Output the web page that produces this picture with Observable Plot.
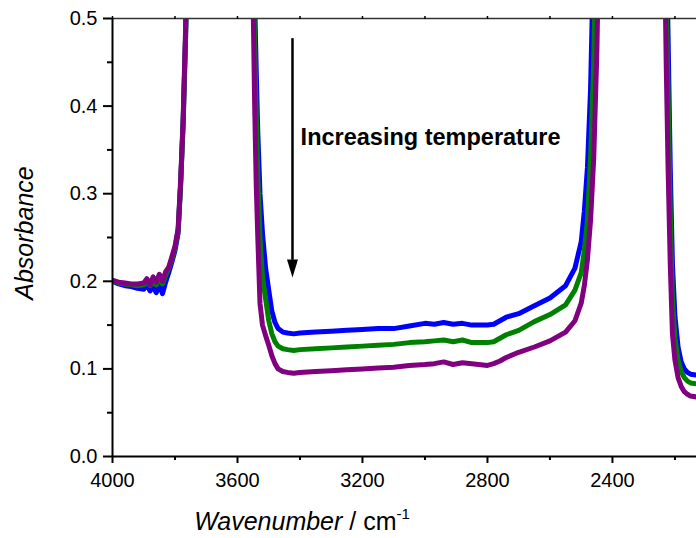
<!DOCTYPE html>
<html><head><meta charset="utf-8">
<script src="https://cdn.jsdelivr.net/npm/d3@7"></script>
<script src="https://cdn.jsdelivr.net/npm/@observablehq/plot@0.6"></script>
<style>body{margin:0;background:#fff;}</style>
</head><body><div id="chart"></div>
<script>
const wavenumber = [
  4000, 3980, 3960, 3940, 3920, 3900, 3890, 3880, 3870, 3860, 3850, 3840, 3830, 3820, 3810, 3800, 3790, 3782, 3774, 3766, 3760,
  3660,
  3560, 3550, 3545, 3540, 3535, 3528, 3520, 3510, 3500, 3490, 3480, 3470, 3455, 3440, 3420,
  3400, 3350, 3300, 3250, 3200, 3150, 3100, 3050, 3000, 2970, 2940, 2910, 2880, 2850, 2800,
  2780, 2760, 2740, 2700, 2650, 2600, 2550, 2520, 2500, 2490, 2480, 2470, 2460, 2450, 2440,
  2340,
  2240, 2232, 2228, 2222, 2215, 2208, 2200, 2190, 2180, 2170, 2160, 2150, 2131
];
const blueValues = [
  0.200, 0.197, 0.195, 0.194, 0.192, 0.191, 0.196, 0.189, 0.194, 0.187, 0.196, 0.186, 0.199, 0.210, 0.222, 0.235, 0.255, 0.31, 0.38, 0.48, 0.6,
  0.9,
  0.7, 0.6, 0.52, 0.44, 0.37, 0.30, 0.255, 0.215, 0.19, 0.166, 0.153, 0.146, 0.142, 0.141, 0.140,
  0.141, 0.142, 0.143, 0.144, 0.145, 0.146, 0.146, 0.149, 0.152, 0.151, 0.153, 0.151, 0.152, 0.150, 0.150,
  0.151, 0.155, 0.159, 0.163, 0.172, 0.181, 0.195, 0.215, 0.245, 0.28, 0.33, 0.42, 0.58, 0.75, 0.8,
  0.9,
  0.8, 0.7, 0.6, 0.48, 0.33, 0.22, 0.16, 0.125, 0.108, 0.100, 0.096, 0.094, 0.093
];
const greenValues = [
  0.201, 0.198, 0.197, 0.196, 0.195, 0.196, 0.199, 0.195, 0.200, 0.196, 0.203, 0.197, 0.207, 0.215, 0.225, 0.238, 0.258, 0.31, 0.38, 0.48, 0.6,
  0.9,
  0.7, 0.56, 0.47, 0.39, 0.32, 0.25, 0.205, 0.18, 0.155, 0.14, 0.131, 0.126, 0.123, 0.122, 0.121,
  0.122, 0.123, 0.124, 0.125, 0.126, 0.127, 0.128, 0.130, 0.131, 0.132, 0.133, 0.131, 0.133, 0.130, 0.130,
  0.131, 0.135, 0.139, 0.144, 0.154, 0.162, 0.173, 0.19, 0.21, 0.235, 0.27, 0.34, 0.45, 0.65, 0.8,
  0.9,
  0.8, 0.65, 0.52, 0.42, 0.28, 0.18, 0.135, 0.11, 0.097, 0.09, 0.086, 0.084, 0.083
];
const purpleValues = [
  0.201, 0.199, 0.198, 0.197, 0.197, 0.198, 0.203, 0.196, 0.205, 0.199, 0.208, 0.200, 0.211, 0.216, 0.228, 0.240, 0.260, 0.315, 0.385, 0.49, 0.6,
  0.9,
  0.7, 0.52, 0.40, 0.31, 0.25, 0.175, 0.15, 0.138, 0.127, 0.115, 0.106, 0.10, 0.097, 0.096, 0.095,
  0.096, 0.097, 0.098, 0.099, 0.100, 0.101, 0.102, 0.104, 0.105, 0.106, 0.108, 0.105, 0.107, 0.106, 0.104,
  0.106, 0.109, 0.113, 0.119, 0.125, 0.132, 0.142, 0.155, 0.175, 0.195, 0.225, 0.27, 0.34, 0.46, 0.65,
  0.9,
  0.8, 0.55, 0.45, 0.33, 0.22, 0.14, 0.11, 0.09, 0.08, 0.074, 0.071, 0.069, 0.068
];
const seriesNames = ["low", "mid", "high"];
const seriesColors = ["#0000ff", "#008000", "#800080"];
const seriesValues = [blueValues, greenValues, purpleValues];

const majorX = [4000, 3600, 3200, 2800, 2400];
const minorX = [3800, 3400, 3000, 2600, 2200];
const majorY = [0, 0.1, 0.2, 0.3, 0.4, 0.5];
const minorY = [0.05, 0.15, 0.25, 0.35, 0.45];

const annotation = [{x: 3398, y: 0.364, label: "Increasing temperature"}];
const arrowShaft = [{x: 3424, y1: 0.477, y2: 0.224}];
const arrowTip = [{x: 3424, y: 0.2043}];

const data = seriesNames.flatMap((s, i) =>
  wavenumber.map((w, j) => ({series: s, wavenumber: w, absorbance: seriesValues[i][j]})));

const arrowHead = {
  draw(ctx) { ctx.moveTo(-5.5, -18); ctx.lineTo(5.5, -18); ctx.lineTo(0, 0); ctx.closePath(); }
};

const plot = Plot.plot({
  width: 696, height: 538,
  marginTop: 18, marginBottom: 82, marginLeft: 112, marginRight: 0,
  style: {fontFamily: "'Liberation Sans', Arial, sans-serif", fontSize: "20px", background: "#fff", color: "#000", overflow: "visible"},
  x: {domain: [4000, 2131], label: null},
  y: {domain: [0, 0.5], label: null},
  color: {domain: seriesNames, range: seriesColors},
  marks: [
    Plot.line(data, {x: "wavenumber", y: "absorbance", z: "series", stroke: "series", strokeWidth: 5, clip: true, strokeLinejoin: "round"}),
    Plot.ruleY([0], {strokeWidth: 2}),
    Plot.ruleY([0.5], {strokeWidth: 1.5, stroke: "#333"}),
    Plot.ruleX([4000], {strokeWidth: 2}),
    Plot.axisX(majorX, {anchor: "bottom", tickSize: 7, tickPadding: 9, strokeWidth: 2, tickFormat: d => String(d), fontSize: 20, label: null}),
    Plot.axisX(minorX, {anchor: "bottom", tickSize: 4, strokeWidth: 2, text: null, label: null}),
    Plot.axisX(majorX.concat(minorX), {anchor: "top", tickSize: 3, strokeWidth: 1.5, text: null, label: null}),
    Plot.axisY(majorY, {anchor: "left", tickSize: 9, tickPadding: 6, strokeWidth: 2, tickFormat: d3.format(".1f"), fontSize: 20, label: null}),
    Plot.axisY(minorY, {anchor: "left", tickSize: 5, strokeWidth: 2, text: null, label: null}),
    Plot.ruleX(arrowShaft, {x: "x", y1: "y1", y2: "y2", strokeWidth: 2.5}),
    Plot.dot(arrowTip, {x: "x", y: "y", symbol: arrowHead, fill: "#000", stroke: null, r: 5}),
    Plot.text(annotation, {x: "x", y: "y", text: "label", textAnchor: "start", fontWeight: "bold", fontSize: 23.5, fill: "#000"})
  ]
});

const svg = d3.select(plot);
svg.append("text")
  .attr("transform", "translate(24,233) rotate(-90)")
  .attr("text-anchor", "middle")
  .attr("dominant-baseline", "central")
  .attr("font-size", 25)
  .attr("font-style", "italic")
  .attr("fill", "#000")
  .text("Absorbance");
const xt = svg.append("text")
  .attr("x", 302).attr("y", 530)
  .attr("font-size", 25)
  .attr("fill", "#000");
xt.append("tspan").attr("font-style", "italic").text("Wavenumber");
xt.append("tspan").text(" / cm");
xt.append("tspan").attr("font-size", 15).attr("dy", -11).text("-1");

document.getElementById("chart").appendChild(plot);
</script>
</body></html>
